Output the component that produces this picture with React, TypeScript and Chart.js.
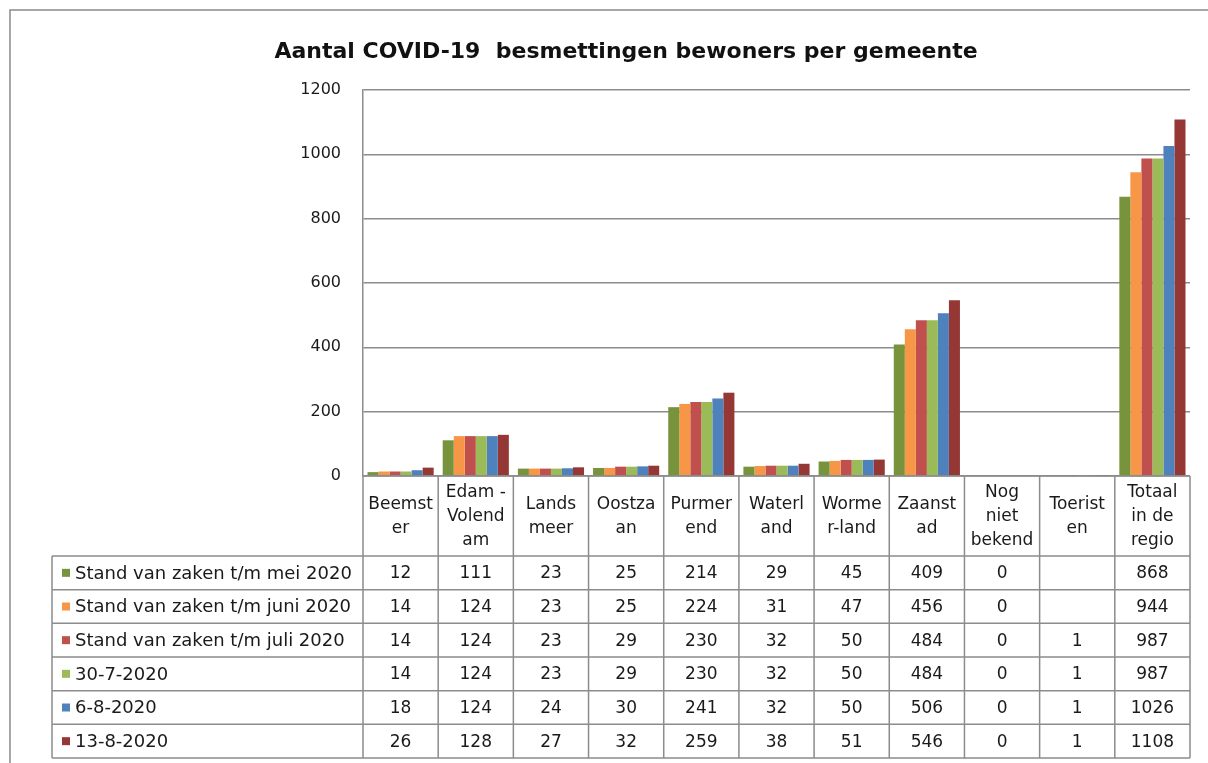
import React, { useEffect, useRef } from "react";
import { Chart, registerables } from "chart.js";

Chart.register(...registerables);

const categories: string[][] = [
  ["Beemst", "er"],
  ["Edam -", "Volend", "am"],
  ["Lands", "meer"],
  ["Oostza", "an"],
  ["Purmer", "end"],
  ["Waterl", "and"],
  ["Worme", "r-land"],
  ["Zaanst", "ad"],
  ["Nog", "niet", "bekend"],
  ["Toerist", "en"],
  ["Totaal", "in de", "regio"],
];

const seriesNames = [
  "Stand van zaken t/m mei 2020",
  "Stand van zaken t/m juni 2020",
  "Stand van zaken t/m juli 2020",
  "30-7-2020",
  "6-8-2020",
  "13-8-2020",
];

const seriesColors = ["#77933C", "#F79646", "#C0504D", "#9BBB59", "#4F81BD", "#953735"];

const mei: (number | null)[] = [12, 111, 23, 25, 214, 29, 45, 409, 0, null, 868];
const juni: (number | null)[] = [14, 124, 23, 25, 224, 31, 47, 456, 0, null, 944];
const juli: (number | null)[] = [14, 124, 23, 29, 230, 32, 50, 484, 0, 1, 987];
const d30_7: (number | null)[] = [14, 124, 23, 29, 230, 32, 50, 484, 0, 1, 987];
const d6_8: (number | null)[] = [18, 124, 24, 30, 241, 32, 50, 506, 0, 1, 1026];
const d13_8: (number | null)[] = [26, 128, 27, 32, 259, 38, 51, 546, 0, 1, 1108];

const seriesValues = [mei, juni, juli, d30_7, d6_8, d13_8];

const yTicks = [0, 200, 400, 600, 800, 1000, 1200];

const FONT = "'DejaVu Sans', Verdana, sans-serif";
const LINE = "#8c8c8c";

const tablePlugin = {
  id: "dataTable",
  afterDraw(chart: any) {
    const ctx = chart.ctx as CanvasRenderingContext2D;
    const x = chart.scales.x;
    const area = chart.chartArea;
    const n = categories.length;
    const headerTop = area.bottom;
    const headerBottom = headerTop + 80;
    const tableBottom = 758;
    const rowH = (tableBottom - headerBottom) / seriesNames.length;
    const legendLeft = 52;
    const edges: number[] = [];
    for (let i = 0; i <= n; i++) edges.push(x.getPixelForValue(i - 0.5));

    ctx.save();
    // outer frame
    ctx.strokeStyle = "#8a8a8a";
    ctx.lineWidth = 1.5;
    ctx.beginPath();
    ctx.moveTo(10, 770);
    ctx.lineTo(10, 10);
    ctx.lineTo(1220, 10);
    ctx.stroke();

    ctx.strokeStyle = LINE;
    ctx.lineWidth = 1.5;
    ctx.beginPath();
    ctx.moveTo(edges[0], headerTop);
    ctx.lineTo(edges[n], headerTop);
    for (let r = 0; r <= seriesNames.length; r++) {
      const y = headerBottom + r * rowH;
      ctx.moveTo(legendLeft, y);
      ctx.lineTo(edges[n], y);
    }
    for (let i = 0; i <= n; i++) {
      ctx.moveTo(edges[i], headerTop);
      ctx.lineTo(edges[i], tableBottom);
    }
    ctx.moveTo(legendLeft, headerBottom);
    ctx.lineTo(legendLeft, tableBottom);
    ctx.stroke();

    ctx.fillStyle = "#1a1a1a";
    ctx.font = `17px ${FONT}`;
    ctx.textAlign = "center";
    ctx.textBaseline = "middle";
    const hc = (headerTop + headerBottom) / 2;
    const lh = 24;
    categories.forEach((lines, i) => {
      const cx = (edges[i] + edges[i + 1]) / 2;
      const start = hc - ((lines.length - 1) * lh) / 2;
      lines.forEach((t, k) => ctx.fillText(t, cx, start + k * lh + 1));
    });

    seriesNames.forEach((name, r) => {
      const cy = headerBottom + r * rowH + rowH / 2;
      ctx.fillStyle = seriesColors[r];
      ctx.fillRect(62, cy - 4, 8, 8);
      ctx.fillStyle = "#1a1a1a";
      ctx.textAlign = "left";
      ctx.font = `18px ${FONT}`;
      ctx.fillText(name, 75, cy + 1);
      ctx.textAlign = "center";
      ctx.font = `17px ${FONT}`;
      seriesValues[r].forEach((v, i) => {
        if (v === null) return;
        const cx = (edges[i] + edges[i + 1]) / 2;
        ctx.fillText(String(v), cx, cy + 1);
      });
    });
    ctx.restore();
  },
};

export default function App() {
  const ref = useRef<HTMLCanvasElement | null>(null);
  useEffect(() => {
    if (!ref.current) return;
    const chart = new Chart(ref.current, {
      type: "bar",
      data: {
        labels: categories.map((c) => c.join("")),
        datasets: seriesNames.map((name, i) => ({
          label: name,
          data: seriesValues[i],
          backgroundColor: seriesColors[i],
          borderWidth: 0,
          categoryPercentage: 0.88,
          barPercentage: 1.0,
        })),
      },
      plugins: [tablePlugin],
      options: {
        responsive: false,
        animation: false,
        layout: { padding: { left: 62, right: 18, top: 39, bottom: 287 } },
        plugins: {
          legend: { display: false },
          tooltip: { enabled: false },
          title: {
            display: true,
            text: "Aantal COVID-19  besmettingen bewoners per gemeente",
            color: "#111",
            font: { family: FONT, size: 22, weight: "bold", lineHeight: 1.2 },
            padding: { top: 0, bottom: 24.6 },
          },
        },
        scales: {
          x: { display: false },
          y: {
            min: 0,
            max: 1200,
            afterBuildTicks: (s: any) => {
              s.ticks = yTicks.map((v) => ({ value: v }));
            },
            afterFit: (s: any) => {
              s.width = 301;
            },
            ticks: {
              color: "#1a1a1a",
              padding: 22,
              font: { family: FONT, size: 16 },
              callback: (v: any) => String(v),
            },
            grid: { color: LINE, lineWidth: 1.5, drawTicks: false },
            border: { display: true, color: LINE, width: 1.5 },
          },
        },
      },
    });
    return () => chart.destroy();
  }, []);
  return (
    <div style={{ position: "fixed", left: 0, top: 0, width: 1208, height: 763, background: "#fff" }}>
      <canvas ref={ref} width={1208} height={763} />
    </div>
  );
}
